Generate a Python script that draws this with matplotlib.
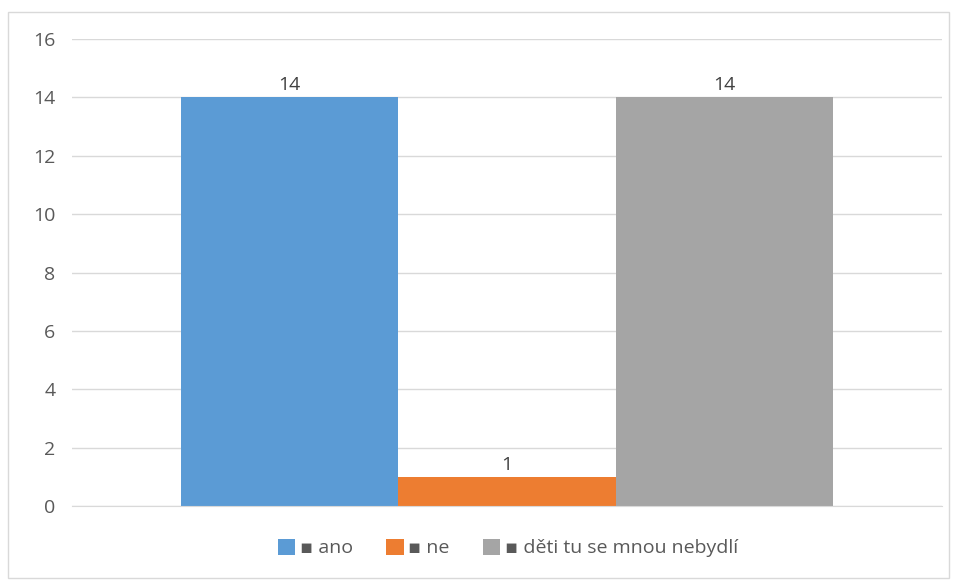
import matplotlib.pyplot as plt
from matplotlib.patches import Rectangle

series = ["ano", "ne", "děti tu se mnou nebydlí"]
values = [14, 1, 14]
colors = ["#5B9BD5", "#ED7D31", "#A5A5A5"]
yticks = [0, 2, 4, 6, 8, 10, 12, 14, 16]

plt.rcParams["font.family"] = ["Open Sans", "DejaVu Sans"]
FS = 14

fig = plt.figure(figsize=(9.57, 5.81), dpi=100)
ax = fig.add_axes([72 / 957, 75 / 581, 870 / 957, 467 / 581])

# chart border
fig.patches.append(Rectangle((8 / 957, 3 / 581), 941 / 957, 566 / 581,
                             transform=fig.transFigure, fill=False,
                             edgecolor="#d9d9d9", linewidth=1))

handles = []
for i, (name, v, c) in enumerate(zip(series, values, colors)):
    b = ax.bar(i, v, width=1.0, color=c, label="▪ " + name, zorder=3)
    handles.append(b)
    ax.text(i, v + 0.1, str(v), ha="center", va="bottom",
            fontsize=FS, color="#404040")

ax.set_xlim(-1, 3)
ax.set_ylim(0, 16)
ax.set_yticks(yticks)
ax.set_xticks([])
ax.yaxis.grid(True, color="#d9d9d9", linewidth=1, zorder=0)
ax.tick_params(axis="y", length=0, pad=12, labelsize=FS, labelcolor="#595959")
for s in ["top", "right", "left"]:
    ax.spines[s].set_visible(False)
ax.spines["bottom"].set_color("#d9d9d9")
ax.spines["bottom"].set_zorder(4)

leg = fig.legend(handles=handles, loc="center", bbox_to_anchor=(508 / 957, 1 - 548 / 581),
                 ncol=3, frameon=False, fontsize=FS, handlelength=0.9,
                 handleheight=0.9, handletextpad=0.25, columnspacing=1.7)
for t in leg.get_texts():
    t.set_color("#595959")

fig.savefig("out.png", dpi=100)
